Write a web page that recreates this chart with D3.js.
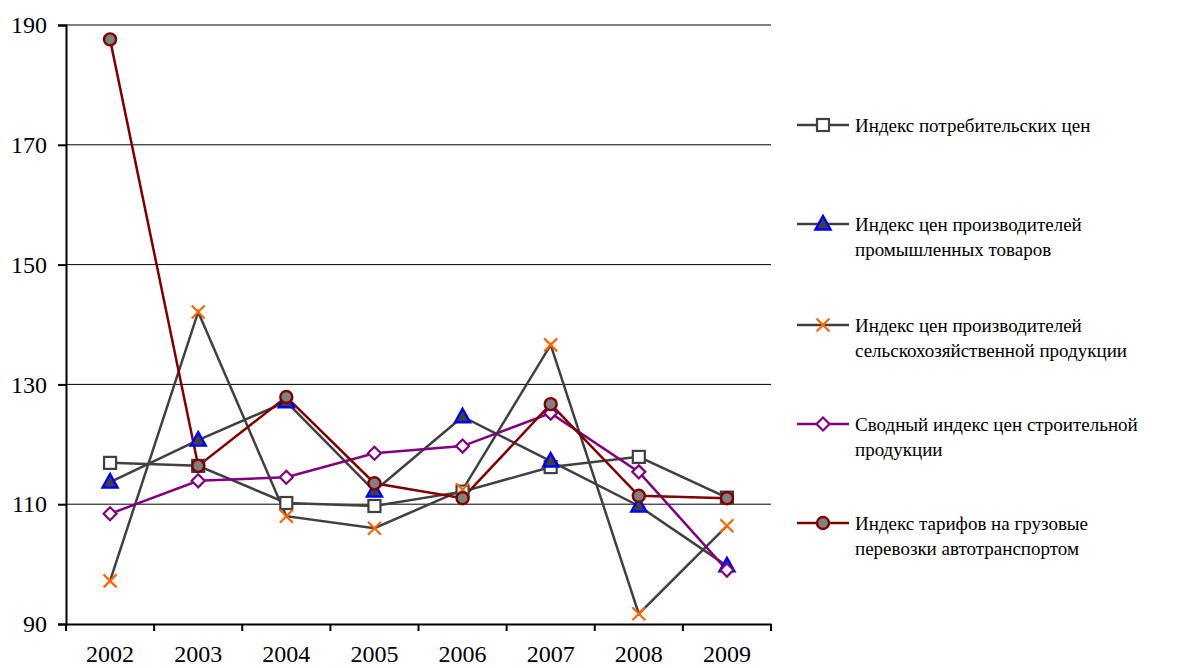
<!DOCTYPE html>
<html><head><meta charset="utf-8">
<script src="https://cdn.jsdelivr.net/npm/d3@7"></script>
<style>body{margin:0;background:#fff}svg{display:block}svg text{font-family:"Liberation Serif","Times New Roman","DejaVu Serif",serif !important}</style>
</head><body><svg id="c" width="1177" height="668"></svg>
<script>
const years = ["2002","2003","2004","2005","2006","2007","2008","2009"];
const cpi = [116.9,116.4,110.2,109.7,112.1,116.2,117.9,111.1];
const industrial = [113.7,120.7,127.1,112.2,124.6,117.2,109.7,99.7];
const agriculture = [97.2,142.1,108.0,106.0,112.4,136.6,91.7,106.4];
const construction = [108.4,113.9,114.5,118.5,119.7,125.2,115.4,99.0];
const freight = [187.6,116.4,127.9,113.5,111.0,126.7,111.4,111.0];
const yTicks = [90,110,130,150,170,190];
const seriesNames = [
  ["Индекс потребительских цен"],
  ["Индекс цен производителей","промышленных товаров"],
  ["Индекс цен производителей","сельскохозяйственной продукции"],
  ["Сводный индекс цен строительной","продукции"],
  ["Индекс тарифов на грузовые","перевозки автотранспортом"]
];

const series = [
  {name:seriesNames[0], values:cpi, line:"#404040", marker:"square", fill:"#fff", stroke:"#404040"},
  {name:seriesNames[1], values:industrial, line:"#404040", marker:"triangle", fill:"#404040", stroke:"#0000ff"},
  {name:seriesNames[2], values:agriculture, line:"#404040", marker:"x", fill:"none", stroke:"#ff6600"},
  {name:seriesNames[3], values:construction, line:"#800080", marker:"diamond", fill:"#fff", stroke:"#800080"},
  {name:seriesNames[4], values:freight, line:"#800000", marker:"circle", fill:"#808080", stroke:"#800000"}
];

const svg = d3.select("#c");
const L=66, R=771, T=25, B=624;
const x = d3.scaleBand().domain(years).range([L,R]);
const y = d3.scaleLinear().domain([90,190]).range([B,T]);

svg.append("g").selectAll("line").data(yTicks.filter(d=>d>90)).join("line")
  .attr("x1",L).attr("x2",R).attr("y1",d=>y(d)).attr("y2",d=>y(d))
  .attr("stroke","#000").attr("stroke-width",1);

const ya = svg.append("g").attr("transform",`translate(${L},0)`)
  .call(d3.axisLeft(y).tickValues(yTicks).tickSize(8).tickPadding(11));
ya.attr("font-family",null);
ya.select(".domain").attr("stroke","#000").attr("stroke-width",2);
ya.selectAll(".tick line").attr("stroke","#000").attr("stroke-width",2);
ya.selectAll("text").attr("font-size",24).attr("fill","#000");

const xa = svg.append("g").attr("transform",`translate(0,${B})`)
  .call(d3.axisBottom(x).tickSize(0).tickPadding(21));
xa.attr("font-family",null);
xa.select(".domain").attr("stroke","#000").attr("stroke-width",2);
xa.selectAll("text").attr("font-size",24).attr("fill","#000");
const bounds = years.map(d=>x(d)).concat([R]);
svg.append("g").selectAll("line").data(bounds).join("line")
  .attr("x1",d=>d).attr("x2",d=>d).attr("y1",B).attr("y2",B+7)
  .attr("stroke","#000").attr("stroke-width",2);

const cx = d=>x(d)+x.bandwidth()/2;

function drawMarker(g, type, fill, stroke){
  if(type==="square") g.append("rect").attr("x",-6).attr("y",-6).attr("width",12).attr("height",12).attr("fill",fill).attr("stroke",stroke).attr("stroke-width",2.2);
  else if(type==="triangle") g.append("path").attr("d","M0,-8L7.5,5.5L-7.5,5.5Z").attr("fill",fill).attr("stroke",stroke).attr("stroke-width",2.4);
  else if(type==="x") g.append("path").attr("d","M-6.5,-6.5L6.5,6.5M-6.5,6.5L6.5,-6.5").attr("fill","none").attr("stroke",stroke).attr("stroke-width",2.2);
  else if(type==="diamond") g.append("path").attr("d","M0,-6.5L6.5,0L0,6.5L-6.5,0Z").attr("fill",fill).attr("stroke",stroke).attr("stroke-width",2.2);
  else if(type==="circle") g.append("circle").attr("r",6).attr("fill",fill).attr("stroke",stroke).attr("stroke-width",2.4);
}

const line = d3.line().x((d,i)=>cx(years[i])).y(d=>y(d));
series.forEach(s=>{
  svg.append("path").datum(s.values).attr("d",line).attr("fill","none")
    .attr("stroke",s.line).attr("stroke-width",2.5);
});
series.forEach(s=>{
  s.values.forEach((v,i)=>{
    const g = svg.append("g").attr("transform",`translate(${cx(years[i])},${y(v)})`);
    drawMarker(g,s.marker,s.fill,s.stroke);
  });
});

const legY = [125,224,325,424,523];
series.forEach((s,i)=>{
  const g = svg.append("g").attr("transform",`translate(797,${legY[i]})`);
  g.append("line").attr("x1",0).attr("x2",52).attr("y1",0).attr("y2",0).attr("stroke",s.line).attr("stroke-width",2.5);
  const m = g.append("g").attr("transform","translate(26,0)");
  drawMarker(m,s.marker,s.fill,s.stroke);
  s.name.forEach((t,j)=>{
    g.append("text").attr("x",58).attr("y",j*25).attr("dy","0.35em").attr("font-size",19).attr("fill","#000").text(t);
  });
});
</script></body></html>
